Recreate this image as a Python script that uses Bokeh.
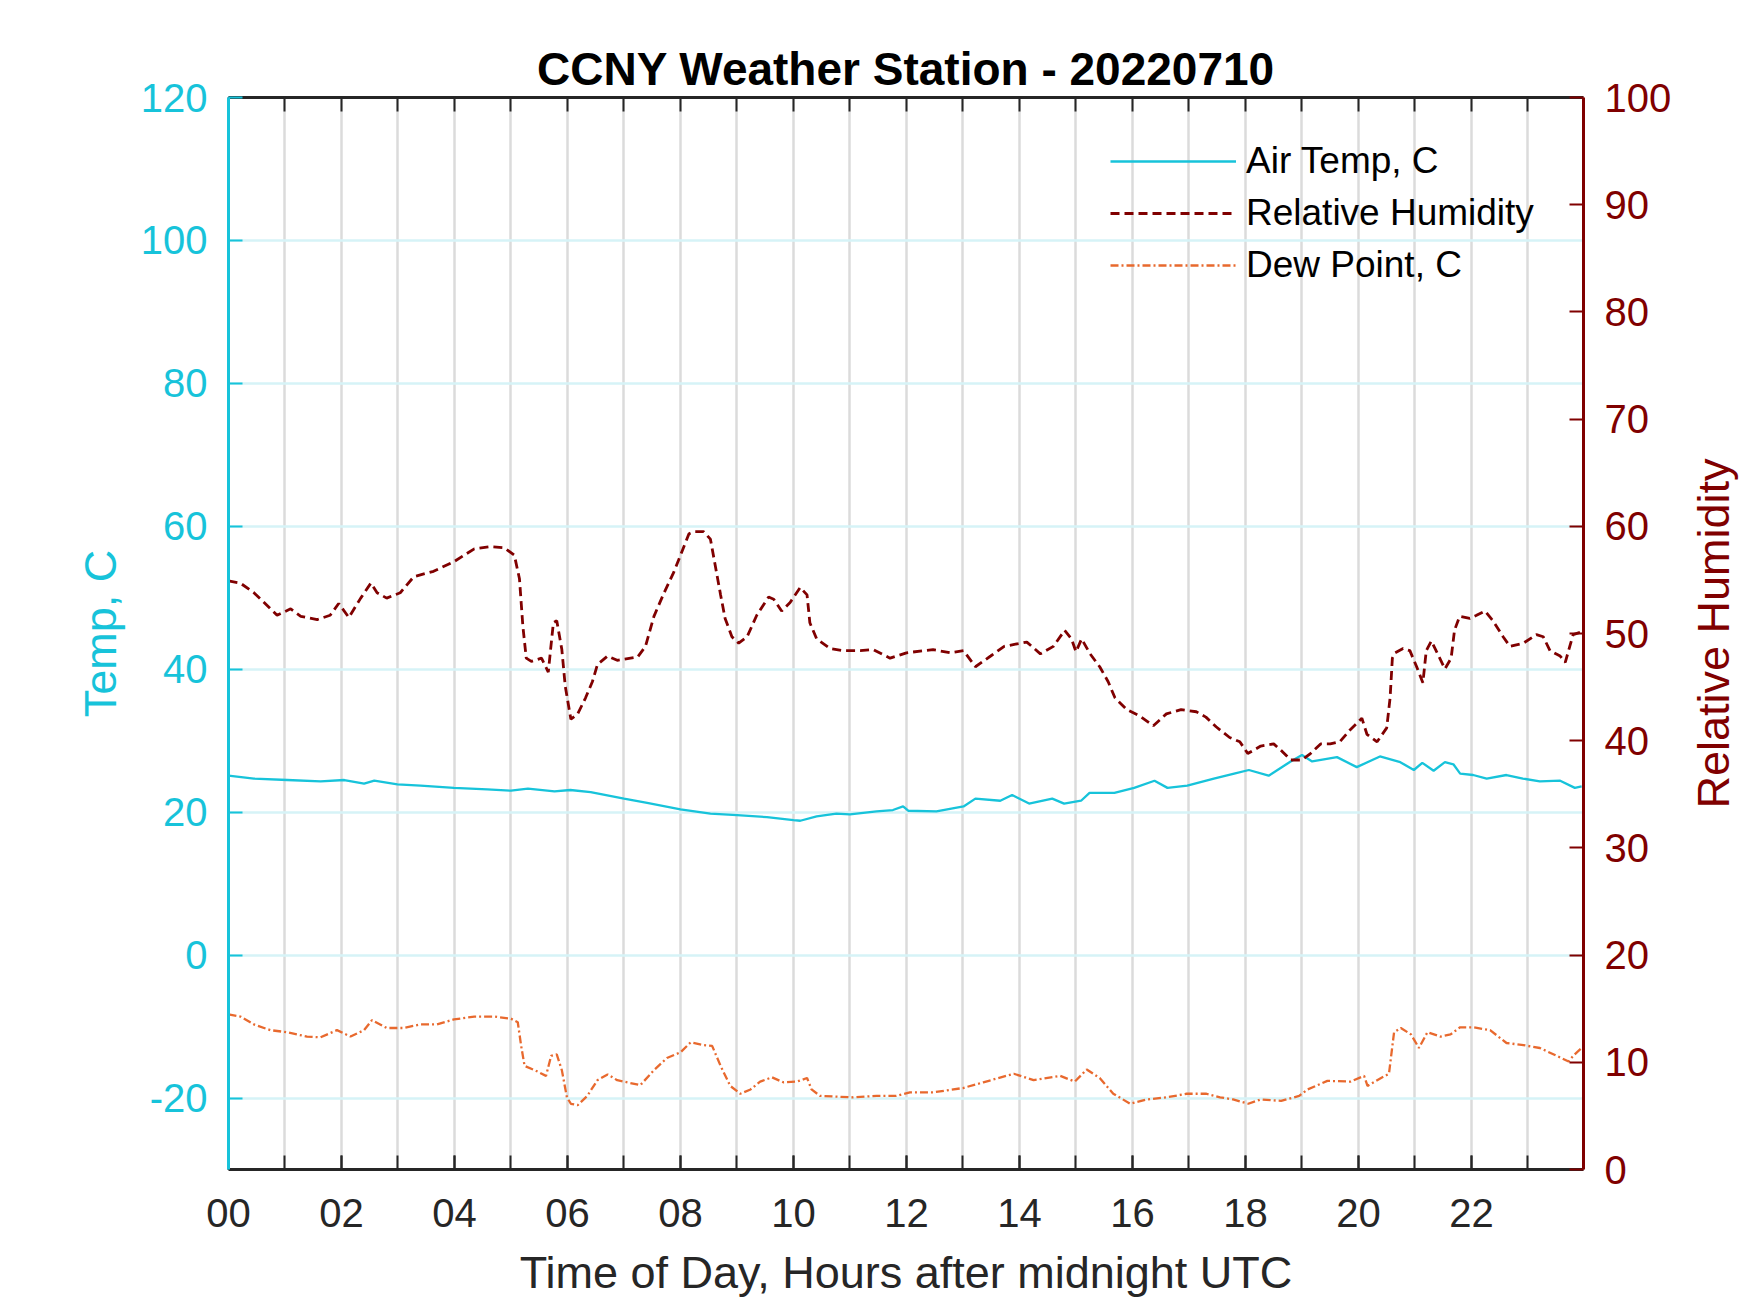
import math
from bokeh.plotting import figure
from bokeh.layouts import row
from bokeh.models import LinearAxis, Range1d, FixedTicker, Legend, LegendItem, Label
from bokeh.embed import file_html
from bokeh.resources import INLINE

# ---------------- data ----------------
TITLE = "CCNY Weather Station - 20220710"
X_LABEL = "Time of Day, Hours after midnight UTC"
Y_LABEL_LEFT = "Temp, C"
Y_LABEL_RIGHT = "Relative Humidity"

X_END = 23.983
HOURS = list(range(24))
X_TICKS = [0, 2, 4, 6, 8, 10, 12, 14, 16, 18, 20, 22]
X_TICK_LABELS = ["00", "02", "04", "06", "08", "10", "12", "14", "16", "18", "20", "22"]
TEMP_TICKS = [-20, 0, 20, 40, 60, 80, 100, 120]
TEMP_TICK_LABELS = ["-20", "0", "20", "40", "60", "80", "100", "120"]
RH_TICKS = [0, 10, 20, 30, 40, 50, 60, 70, 80, 90, 100]

TEMP_HOURS = [0.0, 0.45, 1.04, 1.63, 2.05, 2.4, 2.58, 2.99, 3.4, 3.99, 4.58, 5.0, 5.3, 5.77,
              6.05, 6.41, 7.0, 7.41, 8.0, 8.53, 9.0, 9.53, 10.0, 10.12, 10.41, 10.76, 11.0,
              11.47, 11.76, 11.94, 12.03, 12.53, 13.01, 13.22, 13.66, 13.87, 14.17, 14.58,
              14.79, 15.09, 15.24, 15.68, 16.03, 16.39, 16.62, 16.97, 17.44, 17.8, 18.06,
              18.41, 18.8, 19.0, 19.18, 19.62, 19.97, 20.38, 20.74, 20.98, 21.13, 21.33,
              21.53, 21.68, 21.8, 22.03, 22.27, 22.62, 22.91, 23.21, 23.57, 23.83, 23.95]
TEMP_C = [25.1, 24.7, 24.5, 24.3, 24.5, 24.0, 24.4, 23.9, 23.7, 23.4, 23.2, 23.0, 23.3, 22.9,
          23.1, 22.8, 21.9, 21.3, 20.4, 19.8, 19.6, 19.3, 18.9, 18.8, 19.4, 19.8, 19.7,
          20.1, 20.3, 20.8, 20.2, 20.1, 20.8, 21.9, 21.6, 22.4, 21.2, 21.9,
          21.2, 21.6, 22.7, 22.7, 23.4, 24.4, 23.4, 23.7, 24.7, 25.4, 25.9,
          25.1, 27.1, 28.0, 27.1, 27.7, 26.3, 27.8, 27.0, 25.9, 26.9, 25.8,
          27.0, 26.7, 25.4, 25.2, 24.7, 25.2, 24.7, 24.3, 24.4, 23.4, 23.6]

RH_HOURS = [0.0, 0.21, 0.45, 0.63, 0.86, 1.1, 1.28, 1.57, 1.8, 1.95, 2.13, 2.34, 2.52, 2.63,
            2.8, 3.04, 3.28, 3.63, 3.99, 4.35, 4.64, 4.88, 5.06, 5.15, 5.21, 5.27, 5.36,
            5.54, 5.66, 5.75, 5.81, 5.9, 5.96, 6.06, 6.18, 6.32, 6.44, 6.53, 6.71, 6.88,
            7.24, 7.38, 7.53, 7.71, 7.88, 8.03, 8.15, 8.24, 8.41, 8.53, 8.62, 8.71, 8.79,
            8.91, 9.03, 9.18, 9.35, 9.56, 9.65, 9.79, 9.94, 10.12, 10.24, 10.29, 10.41,
            10.65, 10.88, 11.18, 11.41, 11.71, 12.0, 12.47, 12.77, 13.01, 13.22, 13.49,
            13.73, 13.93, 14.13, 14.37, 14.6, 14.8, 14.92, 15.0, 15.1, 15.25, 15.42, 15.57,
            15.69, 15.9, 16.13, 16.37, 16.6, 16.86, 17.13, 17.3, 17.48, 17.72, 17.9, 18.04,
            18.27, 18.5, 18.65, 18.8, 19.0, 19.15, 19.33, 19.5, 19.67, 19.85, 20.06, 20.15,
            20.33, 20.5, 20.56, 20.6, 20.65, 20.79, 20.91, 21.03, 21.14, 21.2, 21.29, 21.41,
            21.53, 21.64, 21.7, 21.79, 21.97, 22.09, 22.24, 22.38, 22.56, 22.68, 22.92,
            23.15, 23.27, 23.39, 23.57, 23.66, 23.74, 23.8, 23.92]
RH_PCT = [54.9, 54.7, 53.8, 52.9, 51.7, 52.3, 51.6, 51.3, 51.7, 52.8, 51.5, 53.3, 54.7, 53.8,
          53.3, 53.8, 55.3, 55.8, 56.7, 57.9, 58.1, 58.0, 57.3, 55.1, 50.7, 47.7, 47.4,
          47.7, 46.4, 51.0, 51.2, 48.5, 45.1, 42.0, 42.5, 44.0, 45.5, 47.1, 47.9, 47.5,
          47.8, 48.8, 51.6, 53.8, 55.7, 57.7, 59.3, 59.5, 59.5, 58.8, 56.2, 53.6, 51.4,
          49.7, 49.1, 49.7, 51.7, 53.4, 53.2, 52.1, 52.9, 54.3, 53.6, 51.0, 49.5,
          48.6, 48.4, 48.4, 48.5, 47.7, 48.2, 48.5, 48.2, 48.4, 46.9, 47.9,
          48.8, 49.0, 49.2, 48.1, 48.8, 50.3, 49.5, 48.3, 49.5, 48.1, 46.9, 45.5,
          44.0, 42.9, 42.3, 41.4, 42.5, 42.9, 42.7, 42.2, 41.3, 40.3, 39.9, 38.8,
          39.5, 39.7, 39.0, 38.2, 38.2, 38.8, 39.7, 39.7, 39.9, 41.0, 42.1, 40.6,
          39.9, 41.2, 44.0, 47.7, 48.2, 48.6, 48.4, 46.9, 45.4, 48.4, 49.3, 48.0,
          46.7, 47.7, 50.3, 51.6, 51.4, 51.7, 52.1, 51.2, 49.7, 48.8, 49.1,
          49.9, 49.7, 48.4, 47.9, 47.3, 48.8, 49.9, 50.1]

DEW_HOURS = [0.0, 0.21, 0.45, 0.74, 1.04, 1.39, 1.63, 1.92, 2.16, 2.4, 2.54, 2.8, 3.1, 3.4,
             3.69, 3.99, 4.35, 4.7, 5.0, 5.12, 5.18, 5.24, 5.42, 5.62, 5.71, 5.81, 5.9,
             5.99, 6.06, 6.18, 6.35, 6.53, 6.71, 6.88, 7.29, 7.53, 7.76, 8.0, 8.18, 8.41,
             8.56, 8.71, 8.88, 9.06, 9.24, 9.41, 9.62, 9.82, 10.06, 10.24, 10.32, 10.47,
             10.76, 11.06, 11.47, 11.82, 12.06, 12.47, 13.0, 13.36, 13.9, 14.25, 14.72,
             14.98, 15.19, 15.42, 15.66, 15.96, 16.25, 16.61, 16.96, 17.31, 17.55, 17.78,
             18.05, 18.27, 18.63, 18.95, 19.1, 19.45, 19.86, 20.1, 20.16, 20.4, 20.54,
             20.63, 20.75, 20.93, 21.07, 21.22, 21.45, 21.63, 21.8, 22.03, 22.33, 22.62,
             22.92, 23.21, 23.51, 23.72, 23.8, 23.95]
DEW_C = [-8.3, -8.6, -9.7, -10.5, -10.8, -11.4, -11.5, -10.5, -11.4, -10.5, -9.1, -10.2, -10.2, -9.7,
         -9.7, -9.0, -8.6, -8.6, -8.9, -9.4, -12.7, -15.5, -16.1, -16.9, -14.1, -13.9, -16.1,
         -19.9, -20.8, -21.0, -19.7, -17.5, -16.7, -17.5, -18.2, -16.1, -14.4, -13.6, -12.2, -12.6,
         -12.7, -15.5, -18.3, -19.4, -18.8, -17.7, -17.1, -17.8, -17.7, -17.2, -18.8, -19.7,
         -19.8, -19.9, -19.7, -19.7, -19.2, -19.2, -18.6, -17.8, -16.6, -17.5, -16.9,
         -17.7, -16.0, -17.2, -19.4, -20.8, -20.2, -19.9, -19.4, -19.4, -19.9, -20.2,
         -20.8, -20.2, -20.4, -19.7, -18.8, -17.6, -17.7, -16.9, -18.3, -17.2, -16.6,
         -10.8, -10.2, -11.1, -13.0, -10.8, -11.4, -11.1, -10.1, -10.1, -10.5, -12.3,
         -12.6, -13.0, -14.1, -14.9, -14.1, -13.0]

SERIES_LABELS = ["Air Temp, C", "Relative Humidity", "Dew Point, C"]

# ---------------- style ----------------
FONT = "Liberation Sans"
CYAN = "#17c3da"
MAROON = "#800000"
ORANGE = "#e8692e"
DARK = "#262626"
TICK_PX = "40px"
LABEL_PX = "45px"
FIG_H = 1305
MAIN_W = 1683
SIDE_W = 67

p = figure(width=MAIN_W, height=FIG_H,
           x_range=Range1d(0, X_END), y_range=Range1d(-30, 120),
           output_backend="svg", toolbar_location=None, title=TITLE,
           min_border_left=228, min_border_right=100,
           min_border_top=97, min_border_bottom=136)
p.extra_y_ranges = {"rh": Range1d(0, 100)}
p.outline_line_color = None
p.background_fill_color = "white"
p.border_fill_color = "white"

p.title.text_font = FONT
p.title.text_font_size = "46px"
p.title.text_font_style = "bold"
p.title.text_color = "black"
p.title.align = "center"
p.title.standoff = 5

# grids
p.xgrid[0].ticker = FixedTicker(ticks=HOURS)
p.xgrid[0].grid_line_color = "#dbdbdb"
p.xgrid[0].grid_line_width = 2.5
p.ygrid[0].ticker = FixedTicker(ticks=TEMP_TICKS)
p.ygrid[0].grid_line_color = "#d6f3f7"
p.ygrid[0].grid_line_width = 2.5

# bottom axis
xa = p.xaxis[0]
xa.ticker = FixedTicker(ticks=X_TICKS, minor_ticks=HOURS)
xa.major_label_overrides = {h: s for h, s in zip(X_TICKS, X_TICK_LABELS)}
xa.axis_label = X_LABEL
xa.axis_line_color = DARK
xa.axis_line_width = 3
xa.major_tick_line_color = DARK
xa.minor_tick_line_color = DARK
xa.major_tick_line_width = 2
xa.minor_tick_line_width = 2
xa.major_tick_in = 14
xa.major_tick_out = 0
xa.minor_tick_in = 14
xa.minor_tick_out = 0
xa.major_label_standoff = 29
xa.major_label_text_font = FONT
xa.major_label_text_font_size = TICK_PX
xa.major_label_text_color = DARK
xa.axis_label_text_font = FONT
xa.axis_label_text_font_size = LABEL_PX
xa.axis_label_text_font_style = "normal"
xa.axis_label_text_color = DARK
xa.axis_label_standoff = 17

# top axis (ticks only)
ta = LinearAxis(ticker=FixedTicker(ticks=[], minor_ticks=HOURS))
ta.axis_line_color = DARK
ta.axis_line_width = 3
ta.minor_tick_line_color = DARK
ta.minor_tick_line_width = 2
ta.minor_tick_in = 14
ta.minor_tick_out = 0
ta.major_tick_in = 0
ta.major_tick_out = 0
ta.major_label_standoff = 0
ta.major_label_text_font_size = "0px"
p.add_layout(ta, "above")

# left axis
ya = p.yaxis[0]
ya.ticker = FixedTicker(ticks=TEMP_TICKS)
ya.major_label_overrides = {t: s for t, s in zip(TEMP_TICKS, TEMP_TICK_LABELS)}
ya.axis_label = Y_LABEL_LEFT
ya.axis_line_color = CYAN
ya.axis_line_width = 3
ya.major_tick_line_color = CYAN
ya.major_tick_line_width = 2
ya.major_tick_in = 14
ya.major_tick_out = 0
ya.minor_tick_line_color = None
ya.major_label_standoff = 21
ya.major_label_text_font = FONT
ya.major_label_text_font_size = TICK_PX
ya.major_label_text_color = CYAN
ya.axis_label_text_font = FONT
ya.axis_label_text_font_size = LABEL_PX
ya.axis_label_text_font_style = "normal"
ya.axis_label_text_color = CYAN
ya.axis_label_standoff = 12

# right axis (ticks + labels; its title sits in a narrow companion panel)
ra = LinearAxis(y_range_name="rh", ticker=FixedTicker(ticks=RH_TICKS))
ra.axis_line_color = MAROON
ra.axis_line_width = 3
ra.major_tick_line_color = MAROON
ra.major_tick_line_width = 2
ra.major_tick_in = 14
ra.major_tick_out = 0
ra.minor_tick_line_color = None
ra.major_label_standoff = 21
ra.major_label_text_font = FONT
ra.major_label_text_font_size = TICK_PX
ra.major_label_text_color = MAROON
p.add_layout(ra, "right")

# series
r_t = p.line(TEMP_HOURS, TEMP_C, line_color=CYAN, line_width=2.3)
r_rh = p.line(RH_HOURS, RH_PCT, line_color=MAROON, line_width=2.8, line_dash="9 5",
              y_range_name="rh")
r_dp = p.line(DEW_HOURS, DEW_C, line_color=ORANGE, line_width=2.3, line_dash="8 3 2 3")

legend = Legend(items=[LegendItem(label=SERIES_LABELS[0], renderers=[r_t]),
                       LegendItem(label=SERIES_LABELS[1], renderers=[r_rh]),
                       LegendItem(label=SERIES_LABELS[2], renderers=[r_dp])],
                location=(882, 883))
legend.glyph_width = 126
legend.glyph_height = 42
legend.label_height = 42
legend.spacing = 10
legend.padding = 0
legend.margin = 0
legend.label_standoff = 10
legend.border_line_color = None
legend.background_fill_alpha = 0
legend.label_text_font = FONT
legend.label_text_font_size = "37px"
legend.label_text_color = "black"
p.add_layout(legend)

# companion panel carrying the right-axis title (reads bottom to top)
side = figure(width=SIDE_W, height=FIG_H, x_range=Range1d(0, 1), y_range=p.y_range,
              output_backend="svg", toolbar_location=None,
              x_axis_location=None, y_axis_location=None,
              min_border_left=0, min_border_right=0,
              min_border_top=97, min_border_bottom=136)
side.outline_line_color = None
side.grid.visible = False
side.background_fill_color = "white"
side.border_fill_color = "white"
side.add_layout(Label(x=0.45, y=45, text=Y_LABEL_RIGHT, angle=math.pi / 2,
                      text_align="center", text_baseline="middle",
                      text_font=FONT, text_font_size=LABEL_PX, text_color=MAROON))

layout = row(p, side)
open("out.html", "w").write(file_html(layout, INLINE))
